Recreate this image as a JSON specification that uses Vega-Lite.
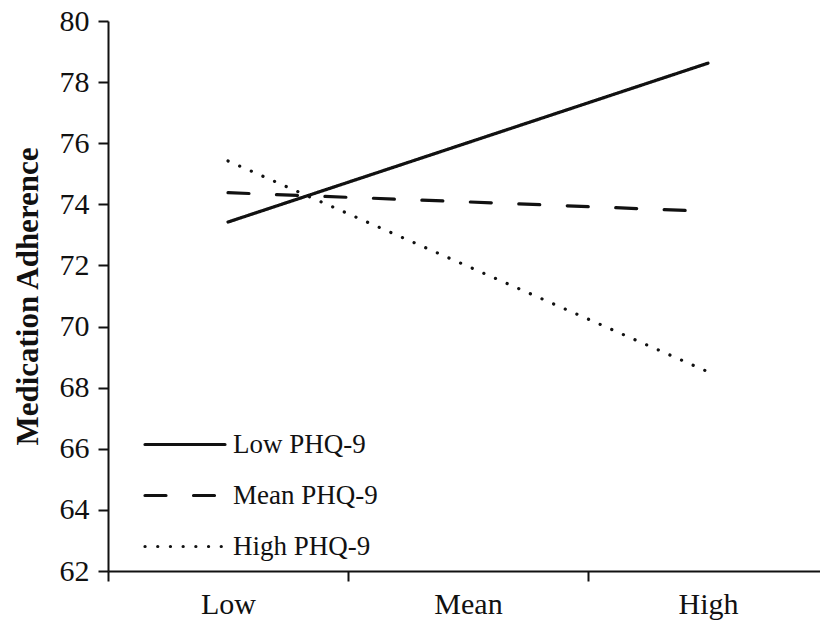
{
  "$schema": "https://vega.github.io/schema/vega-lite/v6.json",
  "autosize": {"type": "none"},
  "padding": {"left": 108, "top": 21, "right": 0, "bottom": 56},
  "width": 712,
  "height": 550,
  "background": "white",
  "config": {
    "view": {"stroke": null},
    "font": "Liberation Serif",
    "axis": {
      "labelFont": "Liberation Serif",
      "titleFont": "Liberation Serif",
      "labelColor": "#111",
      "titleColor": "#111",
      "domainColor": "#111",
      "tickColor": "#111",
      "domainWidth": 2,
      "tickWidth": 2,
      "tickSize": 10,
      "grid": false
    }
  },
  "data": {
    "values": [
      {"level": "Low", "group": "Low PHQ-9", "value": 73.42},
      {"level": "Mean", "group": "Low PHQ-9", "value": 76.02},
      {"level": "High", "group": "Low PHQ-9", "value": 78.62},
      {"level": "Low", "group": "Mean PHQ-9", "value": 74.38},
      {"level": "Mean", "group": "Mean PHQ-9", "value": 74.08},
      {"level": "High", "group": "Mean PHQ-9", "value": 73.77},
      {"level": "Low", "group": "High PHQ-9", "value": 75.42},
      {"level": "Mean", "group": "High PHQ-9", "value": 71.97},
      {"level": "High", "group": "High PHQ-9", "value": 68.52}
    ]
  },
  "mark": {"type": "line", "color": "#111", "strokeWidth": 3.2, "strokeCap": "round"},
  "encoding": {
    "x": {
      "field": "level",
      "type": "ordinal",
      "sort": ["Low", "Mean", "High"],
      "scale": {"type": "band", "range": [0, 720], "paddingInner": 0, "paddingOuter": 0},
      "axis": {
        "title": null,
        "labelAngle": 0,
        "labelFontSize": 30,
        "labelPadding": 8,
        "tickBand": "extent"
      }
    },
    "y": {
      "field": "value",
      "type": "quantitative",
      "scale": {"domain": [62, 80], "nice": false, "zero": false},
      "axis": {
        "title": "Medication Adherence",
        "titleFontSize": 31,
        "titleFontWeight": "bold",
        "titlePadding": 15,
        "labelFontSize": 30,
        "labelPadding": 9,
        "values": [62, 64, 66, 68, 70, 72, 74, 76, 78, 80]
      }
    },
    "strokeDash": {
      "field": "group",
      "type": "nominal",
      "scale": {
        "domain": ["Low PHQ-9", "Mean PHQ-9", "High PHQ-9"],
        "range": [[1, 0], [21, 27.5], [0.1, 12.6]]
      },
      "legend": {
        "title": null,
        "orient": "none",
        "legendX": 35,
        "legendY": 398,
        "symbolType": "stroke",
        "symbolSize": 6400,
        "symbolStrokeWidth": 3.2,
        "symbolStrokeColor": "#111",
        "labelFont": "Liberation Serif",
        "labelFontSize": 27,
        "labelColor": "#111",
        "labelOffset": 6,
        "rowPadding": 0,
        "clipHeight": 51,
        "encode": {"symbols": {"update": {"strokeCap": {"value": "round"}}}}
      }
    }
  }
}
